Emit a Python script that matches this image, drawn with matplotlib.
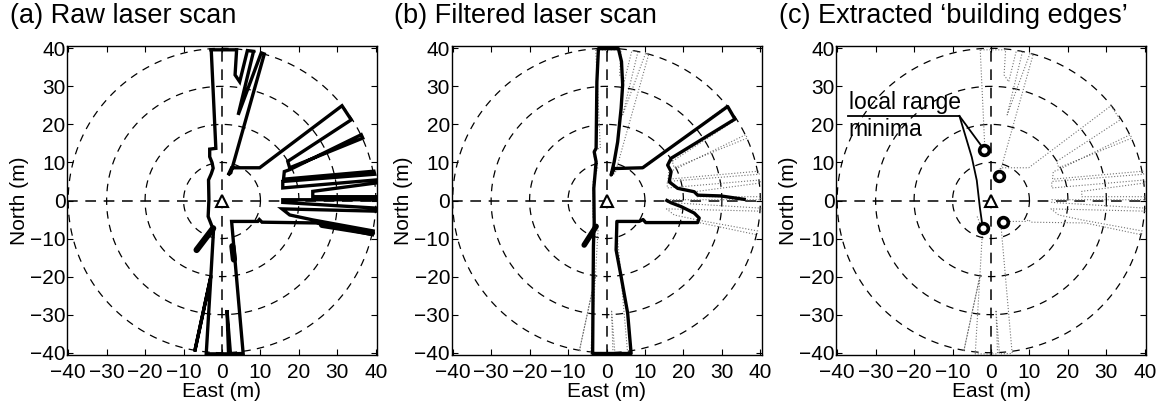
import numpy as np
import matplotlib.pyplot as plt

plt.rcParams['font.family'] = ['Liberation Sans', 'DejaVu Sans']

# ---- data (metres, East / North) ----
ticks = [-40, -30, -20, -10, 0, 10, 20, 30, 40]
ring_radii = [10, 20, 30, 40]
titles = ["(a) Raw laser scan", "(b) Filtered laser scan", "(c) Extracted \u2018building edges\u2019"]

# raw scan outline, panel (a)
raw_x = [-2.8, -1.6, -3.2, -3.2, -2.6, -2.3, -2.8, -3.5, -3.4, -3.6, -2.4, -2.2, -2.9, -7.1, -2.9,
         -4.1, 1.7, 1.3, 2.2, 5.5, 2.5, 9.3, 9.7, 10.4, 24.5, 39.1, 39.3, 23.6, 17.6, 15.6,
         40.1, 40.1, 15.8, 15.8, 40.1, 40.1, 23.6, 23.6, 40.0, 40.0, 15.8, 15.8, 39.7, 39.5,
         16.0, 16.2, 17.6, 36.2, 36.6, 17.6, 17.1, 33.6, 31.2, 9.8, 2.5, 1.6, 2.3, 11.0, 10.2,
         4.2, 8.2, 6.6, 4.6, 3.4, 3.8, -2.8]
raw_y = [39.6, 13.7, 13.5, 11.5, 10.0, 8.5, 7.0, 5.4, 0.2, -4.2, -7.3, -7.7, -20.0, -39.7, -20.0,
         -40.3, -40.3, -28.8, -40.3, -40.2, -5.5, -5.5, -5.0, -5.7, -5.9, -9.0, -8.0, -5.1, -3.8, -2.2,
         -2.8, -2.0, -0.5, 0.2, 0.2, 1.0, 1.0, 2.4, 4.6, 5.4, 3.3, 5.0, 6.9, 7.7,
         5.6, 7.6, 8.1, 17.3, 16.4, 8.6, 10.3, 21.2, 24.9, 8.6, 8.6, 6.7, 7.3, 38.5, 38.8,
         22.5, 39.2, 39.4, 31.2, 33.0, 39.6, 39.6]

# short heavy returns in the raw scan
blob_x = [[-6.6, -2.3], [2.7, 3.1], [26.0, 39.0]]
blob_y = [[-13.0, -7.3], [-12.0, -15.5], [-6.4, -8.5]]

# filtered scan, panel (b)
filt_x = [35.8, 29.7, 23.7, 22.8, 18.5, 16.3, 16.8, 15.9, 16.8, 33.4, 31.5, 9.4, 2.0, 1.2, 2.0,
          2.9, 3.8, 4.2, 3.9, 3.1, -2.1, -2.5, -2.7, -3.2, -2.7, -3.3, -3.2, -3.4, -3.5, -3.6,
          6.4, 5.5, 3.8, 2.5, 2.7, 8.5, 9.5, 10.2, 23.7, 24.1, 22.8, 19.4, 16.8, 15.7]
filt_y = [0.3, 1.2, 1.4, 2.3, 3.2, 4.9, 7.6, 9.3, 11.1, 21.4, 24.7, 8.6, 8.4, 6.7, 10.2,
          15.4, 24.2, 30.4, 36.5, 39.9, 39.9, 31.2, 13.7, 12.8, 10.2, 3.2, -5.9, -12.0, -25.0, -40.2,
          -40.2, -29.6, -20.0, -13.0, -5.5, -5.5, -5.0, -5.8, -5.8, -4.6, -3.3, -1.6, -0.6, 0.0]
filt_blob_x = [-2.7, -5.8]
filt_blob_y = [-6.8, -11.7]

# local range minima, panel (c)
minima_x = [-1.7, 2.2, -2.0, 3.2]
minima_y = [13.4, 6.4, -7.3, -5.7]
leader_x = [-8.2, -6.8, -5.0, -3.7, -2.9, -2.3]
leader_y = [22.2, 17.5, 11.4, 5.3, -1.8, -6.1]

# ---- figure ----
W, H = 1165, 407
fig = plt.figure(figsize=(W / 100, H / 100), dpi=100)
lefts = [67, 451.5, 836]
theta = np.linspace(0, 2 * np.pi, 400)
dash = (0, (6, 5))
axes = []
for i, left in enumerate(lefts):
    ax = fig.add_axes([left / W, (H - 355) / H, 310 / W, 309 / H])
    ax.set_xlim(-40.3, 40.3)
    ax.set_ylim(-40.6, 40.6)
    for r in ring_radii:
        ax.plot(r * np.cos(theta), r * np.sin(theta), color='k', lw=0.9, ls=dash)
    ax.axhline(0, color='k', lw=1.1, ls=(0, (7, 5)))
    ax.axvline(0, color='k', lw=1.1, ls=(0, (7, 5)))
    ax.set_xticks(ticks)
    ax.set_yticks(ticks)
    ax.tick_params(direction='in', top=True, right=True, length=4, width=0.8,
                   labelsize=15, colors='k')
    ax.tick_params(axis='x', pad=6)
    ax.tick_params(axis='y', pad=1)
    ax.set_xlabel("East (m)", fontsize=15, labelpad=0)
    ax.set_ylabel("North (m)", fontsize=15, labelpad=1)
    for s in ax.spines.values():
        s.set_linewidth(1.0)
    fig.text((left - 57) / W, 1 - 3 / H, titles[i], fontsize=19.5, va='top', ha='left')
    axes.append(ax)

ax_a, ax_b, ax_c = axes

# (a) raw scan
ax_a.plot(raw_x, raw_y, color='k', lw=2.4, solid_joinstyle='miter')
for bx, by in zip(blob_x, blob_y):
    ax_a.plot(bx, by, color='k', lw=4.5, solid_capstyle='round')

# (b) filtered scan over the raw one
ax_b.plot(raw_x, raw_y, color='0.45', lw=0.8, ls=':')
ax_b.plot(filt_x, filt_y, color='k', lw=2.4)
ax_b.plot(filt_blob_x, filt_blob_y, color='k', lw=4, solid_capstyle='round')

# (c) building edges
ax_c.plot(raw_x[:2], raw_y[:2], color='0.45', lw=0.8, ls=':')
ax_c.plot(raw_x[9:], raw_y[9:], color='0.45', lw=0.8, ls=':')
ax_c.plot(minima_x, minima_y, 'o', ms=7, mfc='white', mec='k', mew=2.6)
ax_c.plot([-37.2, -8.2], [22.2, 22.2], color='k', lw=1.3)
ax_c.plot([-8.2, -2.6], [22.2, 14.5], color='k', lw=1.3)
ax_c.plot(leader_x, leader_y, color='k', lw=1.3)
ax_c.text(-37, 24.0, "local range", fontsize=16.5, va='baseline', ha='left')
ax_c.text(-37, 17.0, "minima", fontsize=16.5, va='baseline', ha='left')

for ax in axes:
    ax.plot([0], [0], '^', ms=8, mfc='white', mec='k', mew=1.5)

fig.savefig("out.png", dpi=100)
